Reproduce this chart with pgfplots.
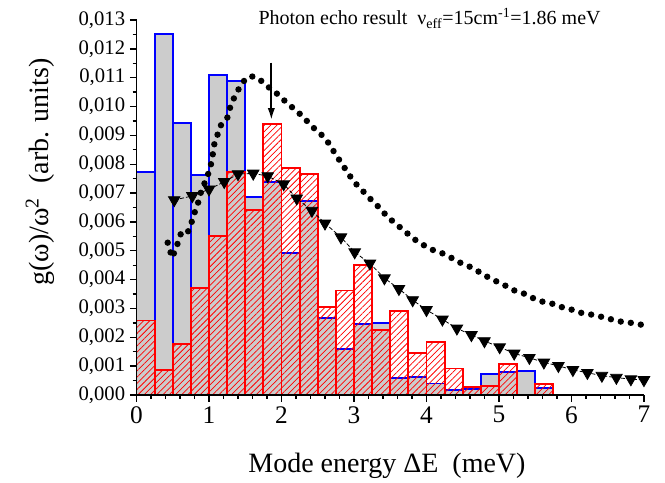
\documentclass[border=0pt]{standalone}
\usepackage{fontspec}
\setmainfont{Liberation Serif}
\usepackage{pgfplots}
\pgfplotsset{compat=1.18}
\usetikzlibrary{patterns.meta,arrows.meta}

\begin{document}
\begin{tikzpicture}
\begin{axis}[
  scale only axis, width=380.6pt, height=281.25pt,
  xmin=0, xmax=7, ymin=0, ymax=0.013,
  axis lines*=left,
  axis on top,
  clip mode=individual,
  axis line style={line width=1.4pt},
  tick align=outside,
  major tick length=5pt, minor tick length=3pt,
  every tick/.style={black, line width=1pt},
  xtick={0,1,2,3,4,5,6,7}, minor x tick num=4,
  ytick={0,0.001,0.002,0.003,0.004,0.005,0.006,0.007,0.008,0.009,0.010,0.011,0.012,0.013},
  minor y tick num=1,
  scaled y ticks=false,
  /pgf/number format/assume math mode=true,
  yticklabel style={font=\fontsize{15.5}{16}\selectfont, /pgf/number format/.cd, fixed, fixed zerofill, precision=3, use comma},
  xticklabel style={font=\fontsize{19}{20}\selectfont},
]
% gray histogram
\addplot[ybar interval, fill={rgb,255:red,204;green,204;blue,204}, draw=blue, line width=1.4pt] coordinates {
(0,0.00772) (0.25,0.01251) (0.5,0.00943) (0.75,0.00763) (1,0.01109) (1.25,0.01088) (1.5,0.00687) (1.75,0.00739) (2,0.00493) (2.25,0.00672) (2.5,0.00266) (2.75,0.00160) (3,0.00246) (3.25,0.00251) (3.5,0.00060) (3.75,0.00063) (4,0.00040) (4.25,0.00017) (4.5,0.00021) (4.75,0.00074) (5,0.00080) (5.25,0.00083) (5.5,0.00025) (5.75,0)
};
% red hatched histogram
\addplot[ybar interval, draw=red, line width=1.4pt, pattern={Lines[angle=45,distance=3.3pt,line width=0.55pt]}, pattern color=red] coordinates {
(0,0.00258) (0.25,0.00087) (0.5,0.00177) (0.75,0.00372) (1,0.00551) (1.25,0.00772) (1.5,0.00641) (1.75,0.00939) (2,0.00786) (2.25,0.00766) (2.5,0.00305) (2.75,0.00362) (3,0.00451) (3.25,0.00225) (3.5,0.00291) (3.75,0.00146) (4,0.00185) (4.25,0.00092) (4.5,0.00029) (4.75,0.00030) (5,0.00108) (5.25,0) (5.5,0.00038) (5.75,0)
};
% triangles
\addplot[black, line width=0.6pt, dash pattern=on 3pt off 1.5pt, mark=triangle*, mark size=5pt, mark options={solid, rotate=180, fill=black}] coordinates {
(0.52,0.00676) (0.77,0.00690) (1.00,0.00713) (1.21,0.00739) (1.40,0.00766) (1.61,0.00768) (1.81,0.00759) (2.03,0.00731) (2.21,0.00682) (2.42,0.00639) (2.60,0.00595) (2.82,0.00547) (3.01,0.00495) (3.22,0.00456) (3.42,0.00405) (3.62,0.00368) (3.81,0.00329) (4.00,0.00295) (4.22,0.00262) (4.42,0.00231) (4.62,0.00208) (4.80,0.00187) (5.01,0.00166) (5.21,0.00144) (5.42,0.00129) (5.62,0.00113) (5.82,0.00101) (6.02,0.00087) (6.22,0.00077) (6.42,0.00067) (6.62,0.00060) (6.82,0.00055) (7.00,0.00052)
};
% dotted curve
\addplot[black, line width=4.8pt, line cap=round, dash pattern=on 0pt off 7.6pt] coordinates {
(0.43,0.00528) (0.46,0.00503) (0.49,0.00476) (0.54,0.00505) (0.58,0.00535) (0.61,0.00558) (0.69,0.00555) (0.74,0.00583) (0.81,0.00639) (0.85,0.00667) (0.88,0.00697) (1.00,0.00774) (1.04,0.00812) (1.07,0.00867) (1.11,0.00895) (1.14,0.00924) (1.18,0.00942) (1.25,0.00959) (1.28,0.00988) (1.32,0.01017) (1.38,0.01046) (1.43,0.01071) (1.48,0.01088) (1.57,0.01106) (1.68,0.01098) (1.80,0.01071) (1.91,0.01051) (2.03,0.01023) (2.14,0.00999) (2.26,0.00973) (2.46,0.00922) (2.57,0.00898) (2.66,0.00870) (2.75,0.00832) (2.83,0.00803) (2.92,0.00768) (3.00,0.00739) (3.13,0.00705) (3.24,0.00676) (3.36,0.00647) (3.46,0.00618) (3.56,0.00597) (3.68,0.00572) (3.78,0.00551) (3.88,0.00531) (4.00,0.00514) (4.11,0.00500) (4.22,0.00491) (4.32,0.00479) (4.43,0.00462) (4.55,0.00451) (4.66,0.00436) (4.78,0.00419) (4.89,0.00402) (5.01,0.00389) (5.12,0.00375) (5.23,0.00360) (5.34,0.00352) (5.46,0.00337) (5.57,0.00325) (5.68,0.00320) (5.80,0.00312) (5.91,0.00300) (6.02,0.00295) (6.13,0.00285) (6.25,0.00280) (6.36,0.00274) (6.47,0.00268) (6.58,0.00260) (6.69,0.00254) (6.80,0.00251) (6.91,0.00246) (7.00,0.00242)
};
% arrow
\draw[-{Latex[length=9pt,width=5.5pt]}, line width=1.5pt] (axis cs:1.86,0.01152) -- (axis cs:1.86,0.00953);
% title
\node[anchor=base west, font=\fontsize{15}{17}\selectfont, inner sep=0pt] at (axis cs:1.68,0.01283) {Photon echo result\ \ ν\textsubscript{eff}=15cm\textsuperscript{-1}=1.86 meV};
% labels
\node[rotate=90, font=\fontsize{21}{23}\selectfont, inner sep=0pt] at (axis cs:-1.33,0.00773) {g(ω)/ω\textsuperscript{2}\ \ (arb. units)};
\node[anchor=base, font=\fontsize{21}{23}\selectfont, inner sep=0pt] at (axis cs:3.455,-0.0027) {Mode energy ΔE\ \ (meV)};
\coordinate (SW) at (rel axis cs:0,0);
\coordinate (NE) at (rel axis cs:1,1);
\end{axis}
\pgfresetboundingbox
\path[use as bounding box] ([shift={(-102.4pt,-66pt)}]SW) rectangle ([shift={(15.8pt,15pt)}]NE);
\end{tikzpicture}
\end{document}
